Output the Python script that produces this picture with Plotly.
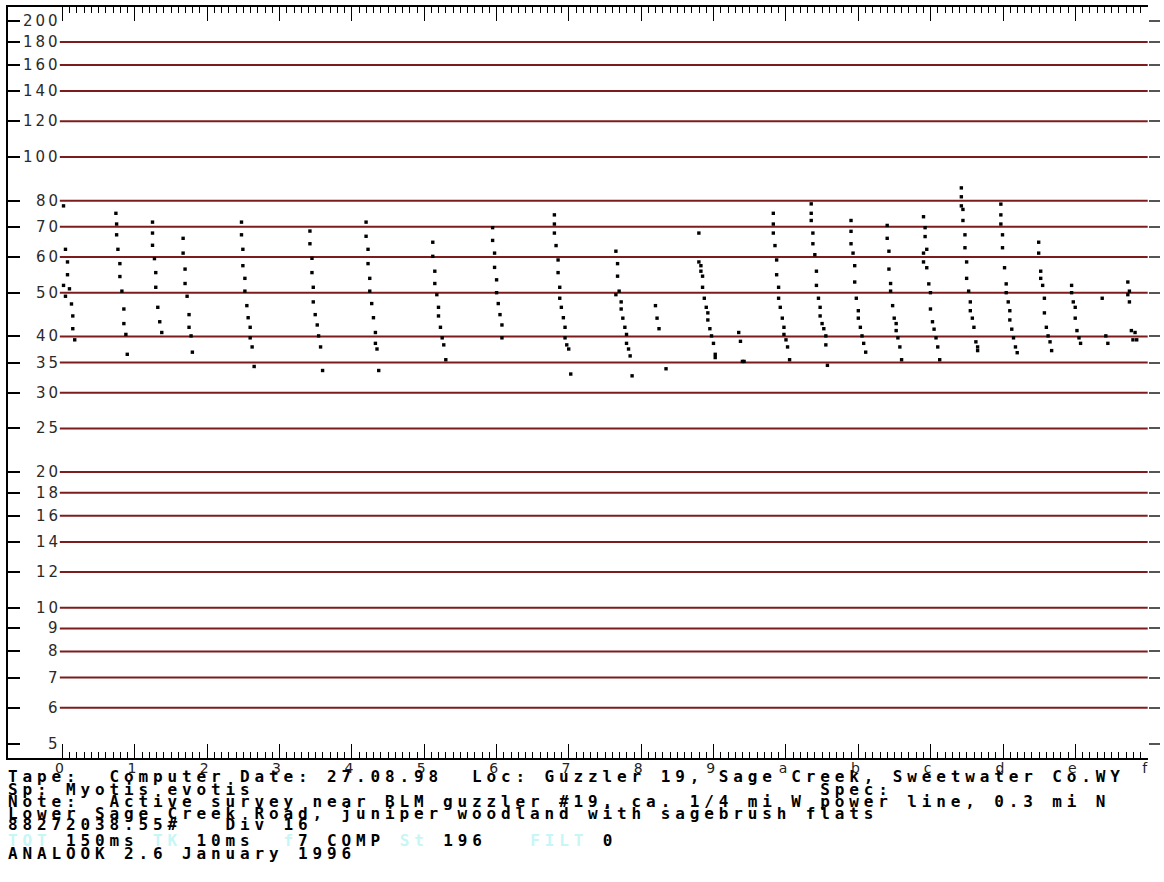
import plotly.graph_objects as go
import math

# ---------------- data ----------------
div_ticks = list(range(16))
div_labels = ["0", "1", "2", "3", "4", "5", "6", "7", "8", "9", "a", "b", "c", "d", "e", "f"]
freq_ticks = [5, 6, 7, 8, 9, 10, 12, 14, 16, 18, 20, 25, 30, 35, 40, 50, 60, 70, 80,
              100, 120, 140, 160, 180, 200]
grid_freqs = [6, 7, 8, 9, 10, 12, 14, 16, 18, 20, 25, 30, 35, 40, 50, 60, 70, 80,
              100, 120, 140, 160, 180]

# time (divisions) of each dot
pulse_time = [
    0.014, 0.041, 0.069, 0.069, 0.014, 0.096, 0.041, 0.124, 0.142, 0.142, 0.169,
    0.738, 0.748, 0.748, 0.766, 0.793, 0.793, 0.821, 0.848, 0.848, 0.876, 0.895,
    1.244, 1.244, 1.244, 1.271, 1.289, 1.289, 1.317, 1.344, 1.372,
    1.667, 1.667, 1.694, 1.694, 1.722, 1.749, 1.749, 1.777, 1.795,
    2.474, 2.474, 2.493, 2.493, 2.521, 2.521, 2.548, 2.566, 2.594, 2.594, 2.621, 2.649,
    3.420, 3.420, 3.448, 3.448, 3.466, 3.466, 3.493, 3.521, 3.540, 3.567, 3.595,
    4.196, 4.196, 4.223, 4.223, 4.247, 4.247, 4.274, 4.298, 4.325, 4.325, 4.347, 4.371,
    5.118, 5.118, 5.146, 5.146, 5.174, 5.197, 5.197, 5.224, 5.248, 5.270, 5.298,
    5.945, 5.945, 5.972, 5.972, 6.000, 6.000, 6.023, 6.047, 6.074, 6.074,
    6.799, 6.799, 6.799, 6.822, 6.850, 6.850, 6.873, 6.873, 6.895, 6.923, 6.946, 6.946,
    6.970, 6.997, 7.025,
    7.649, 7.672, 7.672, 7.694, 7.649, 7.722, 7.722, 7.745, 7.773, 7.796, 7.796, 7.824,
    7.846, 7.873,
    8.196, 8.218, 8.245, 8.342,
    8.796, 8.796, 8.824, 8.824, 8.847, 8.847, 8.871, 8.898, 8.920, 8.920, 8.948, 8.971,
    8.998, 9.022, 9.022,
    9.347, 9.371, 9.398, 9.421,
    9.825, 9.825, 9.825, 9.848, 9.871, 9.871, 9.898, 9.898, 9.921, 9.949, 9.972, 9.972,
    10.000, 10.022, 10.050,
    10.349, 10.349, 10.349, 10.372, 10.372, 10.399, 10.421, 10.421, 10.449, 10.472, 10.472,
    10.499, 10.523, 10.551, 10.551, 10.573,
    10.899, 10.899, 10.899, 10.927, 10.950, 10.950, 10.972, 11.000, 11.000, 11.028, 11.051,
    11.074, 11.102,
    11.399, 11.399, 11.423, 11.423, 11.446, 11.446, 11.474, 11.496, 11.523, 11.523, 11.547,
    11.574, 11.598,
    11.901, 11.923, 11.923, 11.946, 11.901, 11.901, 11.946, 11.974, 11.997, 11.997, 12.025,
    12.047, 12.074, 12.098, 12.125,
    12.424, 12.424, 12.424, 12.446, 12.446, 12.474, 12.474, 12.497, 12.497, 12.525, 12.548,
    12.548, 12.576, 12.598, 12.625, 12.649, 12.649,
    12.970, 12.970, 12.970, 12.993, 12.993, 13.021, 13.044, 13.044, 13.072, 13.094, 13.094,
    13.121, 13.145, 13.172, 13.196,
    13.493, 13.493, 13.521, 13.521, 13.548, 13.572, 13.572, 13.599, 13.623, 13.650, 13.672,
    13.948, 13.948, 13.971, 13.998, 13.998, 14.022, 14.050, 14.072,
    14.371, 14.421, 14.449,
    14.725, 14.747, 14.725, 14.747, 14.774, 14.825, 14.796, 14.848,
]

# frequency (kHz) of each dot
pulse_freq = [
    77.9, 62.4, 58.5, 54.8, 51.9, 51.0, 49.1, 47.2, 44.4, 41.6, 39.3,
    75.0, 71.0, 67.2, 62.4, 58.0, 54.3, 50.4, 46.0, 42.7, 40.4, 36.5,
    71.7, 67.8, 63.7, 59.5, 55.4, 51.4, 46.4, 43.1, 40.8,
    66.0, 61.2, 56.4, 52.4, 49.1, 44.7, 41.9, 40.1, 36.9,
    71.7, 67.2, 62.4, 57.4, 53.8, 50.4, 46.8, 44.0, 41.9, 39.7, 37.9, 34.3,
    68.5, 64.2, 59.6, 55.4, 51.4, 47.7, 44.7, 42.4, 40.1, 37.9, 33.6,
    71.7, 66.7, 62.4, 58.0, 53.8, 50.4, 47.3, 44.0, 40.8, 38.6, 37.5, 33.6,
    64.7, 60.2, 55.8, 52.4, 49.5, 46.4, 44.4, 41.9, 39.7, 38.3, 35.5,
    69.7, 65.3, 61.2, 56.9, 53.4, 50.0, 47.3, 44.7, 42.4, 39.7,
    74.4, 71.0, 67.8, 63.6, 59.1, 55.4, 51.4, 48.6, 46.4, 44.0, 41.9, 39.7,
    38.3, 37.5, 33.0,
    61.8, 58.0, 54.4, 50.4, 49.5, 47.7, 46.0, 43.9, 41.9, 40.4, 38.6, 37.5,
    36.2, 32.7,
    46.8, 43.9, 41.6, 33.9,
    67.8, 58.5, 57.4, 55.8, 54.4, 51.4, 48.6, 46.4, 45.1, 43.5, 41.6, 40.1,
    38.6, 36.5, 35.9,
    40.8, 39.0, 35.2, 35.2,
    75.0, 71.0, 67.8, 63.6, 59.1, 54.8, 51.4, 48.6, 46.4, 43.9, 41.9, 40.4,
    39.3, 37.9, 35.5,
    78.7, 75.0, 72.3, 67.8, 64.2, 60.7, 55.8, 51.9, 48.6, 46.4, 44.4,
    42.7, 41.6, 40.1, 38.3, 34.5,
    72.3, 68.4, 64.2, 61.2, 57.4, 52.8, 48.6, 45.6, 43.9, 41.9, 40.1,
    38.6, 36.9,
    70.5, 66.0, 61.8, 56.4, 52.4, 50.4, 46.8, 43.9, 42.7, 41.2, 39.7,
    37.9, 35.5,
    73.7, 69.7, 66.6, 62.4, 61.2, 58.5, 56.8, 52.3, 50.0, 46.0, 43.1,
    41.5, 39.7, 37.9, 35.5,
    85.4, 81.6, 77.9, 76.5, 72.3, 67.2, 62.9, 58.5, 53.8, 50.4, 47.7,
    45.6, 43.9, 41.9, 38.9, 37.9, 37.2,
    78.6, 74.4, 71.0, 67.2, 62.9, 56.8, 52.3, 50.0, 47.7, 45.6, 43.5,
    41.5, 39.7, 37.9, 36.8,
    64.7, 61.2, 55.8, 53.8, 51.9, 48.6, 45.1, 41.9, 40.1, 38.9, 37.2,
    51.9, 50.0, 47.7, 46.4, 43.9, 41.2, 39.7, 38.6,
    48.6, 40.1, 38.6,
    52.8, 50.4, 49.5, 47.7, 41.2, 40.8, 39.3, 39.3,
]

INK = "#000000"
CYAN = "#c6f6f6"
info_lines = [
    [("Tape:  Computer Date: 27.08.98  Loc: Guzzler 19, Sage Creek, Sweetwater Co.WY", INK)],
    [("Sp: Myotis evotis" + " " * 39 + "Spec:", INK)],
    [("Note:  Active survey near BLM guzzler #19, ca. 1/4 mi W power line, 0.3 mi N", INK)],
    [("Lower Sage Creek Road, juniper woodland with sagebrush flats", INK)],
    [("88272038.55#   Div 16", INK)],
    [("TOT", CYAN), (" 150ms ", INK), ("TK", CYAN), (" 10ms  ", INK), ("f", CYAN),
     ("7 COMP ", INK), ("St", CYAN), (" 196   ", INK), ("FILT", CYAN), (" 0", INK)],
    [("ANALOOK 2.6 January 1996", INK)],
]

# ---------------- layout geometry ----------------
W, H = 1164, 882
ML, MR, MT, MB = 8, 12, 5, 124
PW, PH = W - ML - MR, H - MT - MB
X_RANGE = [-0.7534, 15.004]
Y_RANGE = [0.6668, 2.3327]
info_y_px = [777, 790, 802, 814, 825, 841, 854]
FONT_PX = 16
CHAR_PX = 14.5
LETTER_SP = CHAR_PX - 0.602 * FONT_PX


def paper_x(px):
    return (px - ML) / PW


def paper_y(py):
    return (H - MB - py) / PH


GRID_COLOR = "#7d1c1c"

fig = go.Figure()

# horizontal frequency gridlines (start right of the labels)
gx, gy = [], []
for f in grid_freqs:
    gx += [-0.037, 15.0, None]
    gy += [f, f, None]
fig.add_trace(go.Scatter(x=gx, y=gy, mode="lines",
                         line=dict(color=GRID_COLOR, width=2),
                         hoverinfo="skip", showlegend=False))

# call dots
fig.add_trace(go.Scatter(x=pulse_time, y=pulse_freq, mode="markers",
                         marker=dict(symbol="square", size=3.4, color="black",
                                     line=dict(width=0)),
                         showlegend=False))

# dummy trace for right-hand tick axis
fig.add_trace(go.Scatter(x=[None], y=[None], yaxis="y2", showlegend=False,
                         hoverinfo="skip"))

minor_vals = [i + k / 10 for i in range(15) for k in range(1, 10)]

fig.update_layout(
    width=W, height=H,
    margin=dict(l=ML, r=MR, t=MT, b=MB, pad=0),
    paper_bgcolor="white", plot_bgcolor="white",
    showlegend=False,
    xaxis=dict(
        range=X_RANGE, showgrid=False, zeroline=False,
        showline=True, linecolor="black", linewidth=1.5, mirror="ticks",
        tickmode="array", tickvals=div_ticks, ticktext=div_labels,
        ticks="inside", ticklen=14, tickwidth=1, tickcolor="black",
        tickfont=dict(family="DejaVu Sans", size=14, color="#222222"),
        ticklabelstandoff=-4, ticklabelshift=-3,
        minor=dict(tickmode="array", tickvals=minor_vals, ticks="inside",
                   ticklen=6, tickwidth=1, tickcolor="black", showgrid=False),
    ),
    yaxis=dict(
        type="log", range=Y_RANGE, showgrid=False, zeroline=False,
        showline=True, linecolor="black", linewidth=1.5,
        tickmode="array", tickvals=freq_ticks, ticks="inside", ticklen=12,
        tickwidth=1.5, tickcolor="black", showticklabels=False,
    ),
    yaxis2=dict(
        type="log", range=Y_RANGE, overlaying="y", side="right", anchor="x",
        showgrid=False, zeroline=False, showline=False,
        tickmode="array", tickvals=freq_ticks, ticks="outside", ticklen=11,
        tickwidth=2, tickcolor="#555555", showticklabels=False,
    ),
)

# frequency labels (right-aligned just left of the gridlines)
for f in freq_ticks:
    fig.add_annotation(
        x=-0.017, y=math.log10(f), xref="x", yref="y",
        text=f'<span style="letter-spacing:3px">{f}</span>',
        showarrow=False, xanchor="right", yanchor="middle",
        borderpad=0, borderwidth=0,
        font=dict(family="DejaVu Sans", size=15, color="#2a2a2a"),
    )

# header / info text block
for segs, ypx in zip(info_lines, info_y_px):
    html = "".join(
        f'<span style="letter-spacing:{LETTER_SP:.2f}px;color:{c}">{t}</span>'
        for t, c in segs
    )
    fig.add_annotation(
        x=paper_x(7.5), y=paper_y(ypx), xref="paper", yref="paper",
        text=html, showarrow=False, xanchor="left", yanchor="middle",
        align="left", borderpad=0, borderwidth=0,
        font=dict(family="DejaVu Sans Mono", size=FONT_PX, color="black", weight="bold"),
    )

fig.write_html(
    "out.html",
    config={"displayModeBar": False},
    post_script="document.body.style.margin='0px';document.body.style.padding='0px';",
)
